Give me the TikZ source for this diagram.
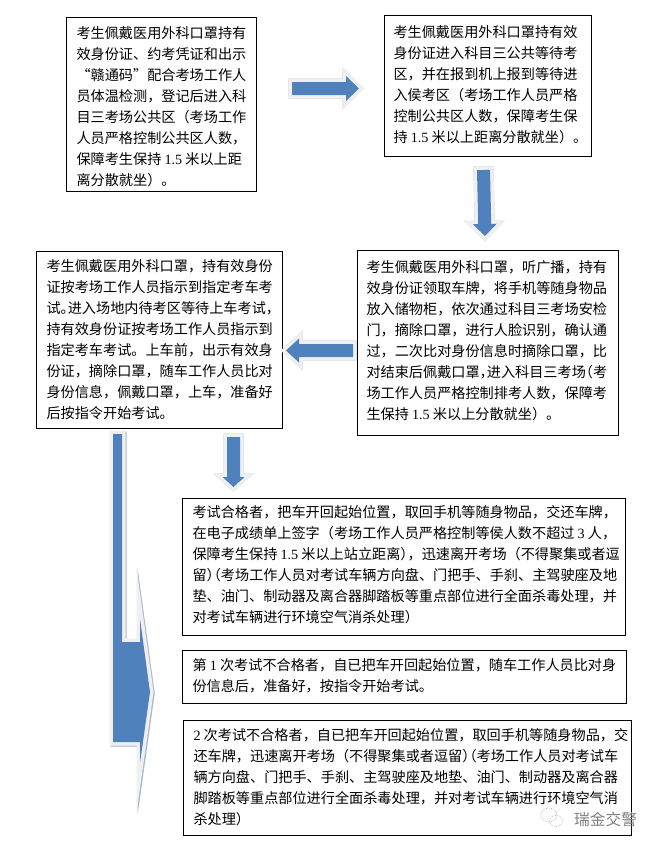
\documentclass[tikz,border=0pt]{standalone}
\usepackage{fontspec}
\usetikzlibrary{calc}
\setmainfont{Noto Sans CJK SC}
\newfontfamily\latinnum{Liberation Serif}
\newcommand{\lat}[1]{{\latinnum #1}}
\newcommand{\cellbox}[5]{\parbox[c][#2pt][t]{#1pt}{\leftskip=#3pt\rightskip=0pt plus 1fil\hbadness=10000\hfuzz=40pt\vspace*{#4pt}\leavevmode\rule{0pt}{12pt}#5\par}}
\definecolor{arrowblue}{HTML}{4F81BD}
\definecolor{arrowhalo}{HTML}{F0F0F0}
\definecolor{arrowshadow}{HTML}{A9B7CC}
\tikzset{
  stepbox/.style={draw=black,line width=1pt,fill=white,inner sep=0pt,outer sep=0pt,anchor=north west,font=\fontsize{14.15}{21}\selectfont},
  arrowbody/.style={fill=arrowblue},
  arrowglow/.style={draw=arrowhalo,fill=arrowhalo,line width=7pt,miter limit=40},
  arrowdrop/.style={draw=arrowshadow,fill=arrowshadow,line width=7pt,miter limit=40,shift={(1.2,1.2)}},
  markfont/.style={text=black!50,font=\fontsize{15.7}{16}\selectfont,inner sep=0pt},
  markline/.style={draw=black!28,line width=0.7pt,densely dotted}
}
\newcommand{\arrowshape}[1]{%
  \path[arrowdrop] #1;
  \path[arrowglow] #1;
  \path[arrowbody] #1;
}
\newcommand{\blockarrow}[5]{%
  \coordinate (hb) at ($(#2)!#5pt!(#1)$);
  \coordinate (p1) at ($(#1)!#3pt!90:(#2)$);
  \coordinate (p2) at ($(hb)!#3pt!-90:(#1)$);
  \coordinate (p3) at ($(hb)!#4pt!-90:(#1)$);
  \coordinate (p4) at ($(hb)!#4pt!90:(#1)$);
  \coordinate (p5) at ($(hb)!#3pt!90:(#1)$);
  \coordinate (p6) at ($(#1)!#3pt!-90:(#2)$);
  \arrowshape{(p1) -- (p2) -- (p3) -- (#2) -- (p4) -- (p5) -- (p6) -- cycle}
}
\begin{document}
\begin{tikzpicture}[x=1pt,y=-1pt]
\path[use as bounding box,fill=white] (0,0) rectangle (658,846);

% big arrow behind the boxes
\arrowshape{(113,434) -- (122,434) -- (122,642) -- (140,642) -- (140,619) -- (150,692) -- (140,763) -- (140,742) -- (113,742) -- cycle}

\node[stepbox] (n1) at (66,17) {\cellbox{190}{174}{10.5}{9.5}{考生佩戴医用外科口罩持有\\效身份证、约考凭证和出示\\“赣通码”配合考场工作人\\员体温检测，登记后进入科\\目三考场公共区（考场工作\\人员严格控制公共区人数，\\保障考生保持 \lat{1.5} 米以上距\\离分散就坐）。}};

\node[stepbox] (n2) at (384,15) {\cellbox{207}{141}{9.5}{10}{考生佩戴医用外科口罩持有效\\身份证进入科目三公共等待考\\区，并在报到机上报到等待进\\入侯考区（考场工作人员严格\\控制公共区人数，保障考生保\\持 \lat{1.5} 米以上距离分散就坐）。}};

\node[stepbox] (n3) at (36,251) {\cellbox{246}{177}{10.5}{8.5}{考生佩戴医用外科口罩，持有效身份\\证按考场工作人员指示到指定考车考\\试。\kern-7pt 进入场地内待考区等待上车考试，\\持有效身份证按考场工作人员指示到\\指定考车考试。上车前，出示有效身\\份证，摘除口罩，随车工作人员比对\\身份信息，佩戴口罩，上车，准备好\\后按指令开始考试。}};

\node[stepbox] (n4) at (357,250) {\cellbox{261}{185}{9.5}{10}{考生佩戴医用外科口罩，听广播，持有\\效身份证领取车牌，将手机等随身物品\\放入储物柜，依次通过科目三考场安检\\门，摘除口罩，进行人脸识别，确认通\\过，二次比对身份信息时摘除口罩，比\\对结束后佩戴口罩，\kern-7pt 进入科目三考场\kern-7pt（考\\场工作人员严格控制排考人数，保障考\\生保持 \lat{1.5} 米以上分散就坐）。}};

\node[stepbox] (n5) at (182,498) {\cellbox{443}{137}{10.5}{7.5}{考试合格者，把车开回起始位置，取回手机等随身物品，交还车牌，\\在电子成绩单上签字（考场工作人员严格控制等侯人数不超过 \lat{3} 人，\\保障考生保持 \lat{1.5} 米以上站立距离）\kern-7pt，迅速离开考场（不得聚集或者逗\\留）\kern-14pt（考场工作人员对考试车辆方向盘、门把手、手刹、主驾驶座及地\\垫、油门、制动器及离合器脚踏板等重点部位进行全面杀毒处理，并\\对考试车辆进行环境空气消杀处理）}};

\node[stepbox] (n6) at (182,650) {\cellbox{444}{53}{10.5}{8.5}{第 \lat{1} 次考试不合格者，自已把车开回起始位置，随车工作人员比对身\\份信息后，准备好，按指令开始考试。}};

\node[stepbox] (n7) at (183,720) {\cellbox{448}{115}{10.5}{8.5}{\lat{2} 次考试不合格者，自已把车开回起始位置，取回手机等随身物品，交\\还车牌，迅速离开考场（不得聚集或者逗留）\kern-14pt（考场工作人员对考试车\\辆方向盘、门把手、手刹、主驾驶座及地垫、油门、制动器及离合器\\脚踏板等重点部位进行全面杀毒处理，并对考试车辆进行环境空气消\\杀处理）}};

% block arrows
\coordinate (ra) at (292,88.5);
\coordinate (rb) at (359,88.5);
\blockarrow{ra}{rb}{6.5}{12.5}{13}
\coordinate (da) at (483.5,170);
\coordinate (db) at (485,236);
\blockarrow{da}{db}{6.5}{12}{12}
\coordinate (la) at (353,350.5);
\coordinate (lb) at (286,350.5);
\blockarrow{la}{lb}{6.5}{12}{13}
\coordinate (ea) at (233.5,437);
\coordinate (eb) at (233.5,487);
\blockarrow{ea}{eb}{6.5}{11}{10}

% watermark
\path[markline] (549,815) ellipse [x radius=8,y radius=7];
\path[markline] (556,821) ellipse [x radius=6.5,y radius=5.5];
\node[markfont,anchor=west] (wm) at (574,819) {瑞金交警};
\end{tikzpicture}
\end{document}
